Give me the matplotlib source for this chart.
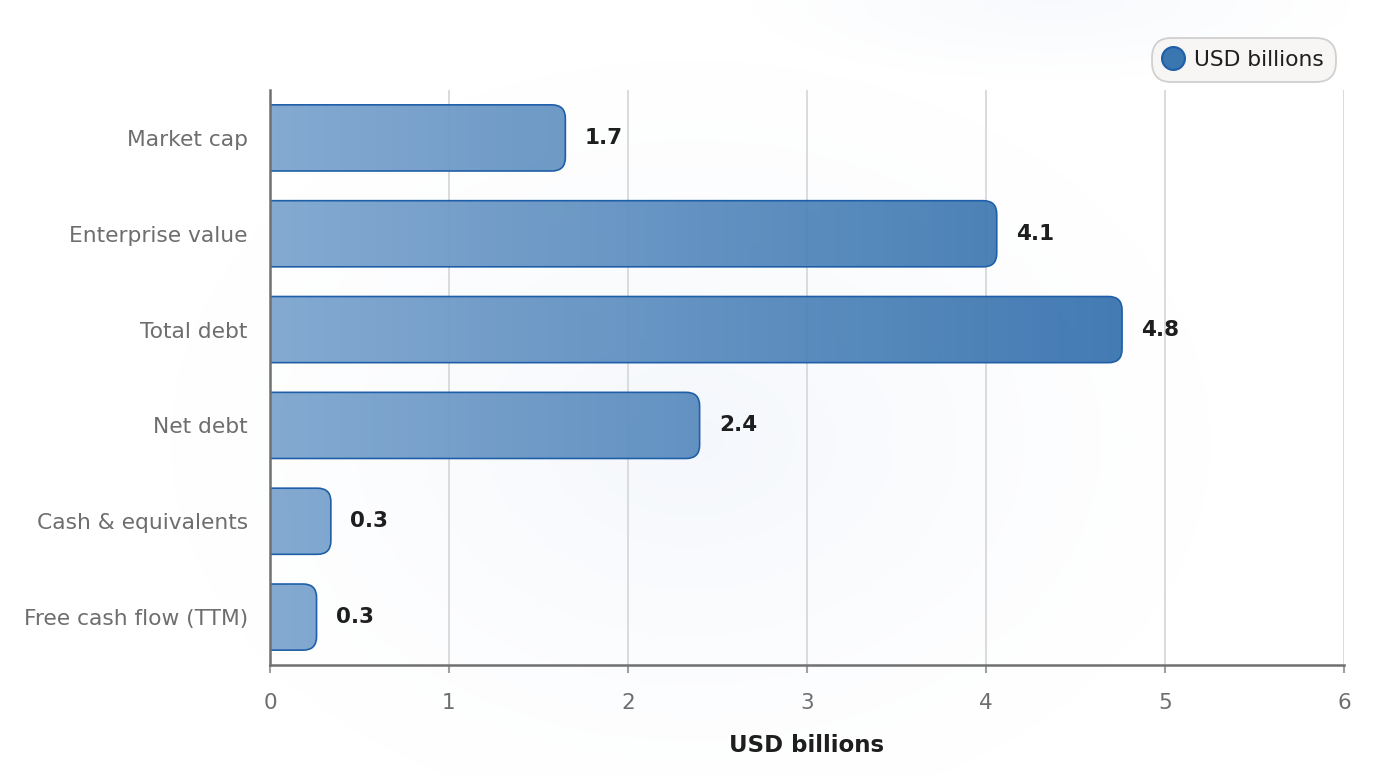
import numpy as np
import matplotlib
matplotlib.use("Agg")
import matplotlib.pyplot as plt
from matplotlib.patches import FancyBboxPatch
from matplotlib.colors import LinearSegmentedColormap
from matplotlib.lines import Line2D

# data
categories = ["Market cap", "Enterprise value", "Total debt", "Net debt",
              "Cash & equivalents", "Free cash flow (TTM)"]
values = [1.65, 4.06, 4.76, 2.40, 0.34, 0.26]
value_labels = ["1.7", "4.1", "4.8", "2.4", "0.3", "0.3"]
x_ticks = [0, 1, 2, 3, 4, 5, 6]

fig = plt.figure(figsize=(13.8, 7.76), dpi=100)

# faint radial glow in the background
bg = fig.add_axes([0, 0, 1, 1], zorder=-10)
yy, xx = np.mgrid[0:776, 0:1380]
d = np.sqrt(((xx - 690) / 520.0) ** 2 + ((yy - 440) / 380.0) ** 2)
glow = np.clip(1 - d, 0, 1) ** 1.3
d2 = np.sqrt(((xx - 1050) / 300.0) ** 2 + ((yy - 0) / 80.0) ** 2)
glow = np.maximum(glow, np.clip(1 - d2, 0, 1) * 0.7)
bgcol = np.ones((776, 1380, 3))
tint = np.array([0.958, 0.970, 0.988])
bgcol = bgcol * (1 - glow[..., None]) + tint * glow[..., None]
bg.imshow(bgcol, aspect="auto", extent=[0, 1, 0, 1])
bg.axis("off")

ax = fig.add_axes([270 / 1380, 1 - 665 / 776, (1344 - 270) / 1380, (665 - 90) / 776])
ax.patch.set_alpha(0)

ylim = (len(categories) - 0.5, -0.5)
ax.set_xlim(0, 6)
ax.set_ylim(*ylim)
ax.set_xticks(x_ticks)
ax.set_xticklabels([str(t) for t in x_ticks])
ax.set_yticks(range(len(categories)))
ax.set_yticklabels(categories)
ax.grid(axis="x", color="#d8d8d8", linewidth=1.3, zorder=0)
ax.set_axisbelow(True)

for s in ["top", "right"]:
    ax.spines[s].set_visible(False)
for s in ["left", "bottom"]:
    ax.spines[s].set_color("#707070")
    ax.spines[s].set_linewidth(1.8)
    ax.spines[s].set_zorder(5)

ax.tick_params(axis="y", length=0, pad=16, labelsize=15.7, labelcolor="#6e6e6e")
ax.tick_params(axis="x", length=6, width=1.5, color="#a0a0a0", pad=14,
               labelsize=15.5, labelcolor="#6e6e6e")
ax.set_xlabel("USD billions", fontsize=16.5, fontweight="bold", color="#1e1e1e", labelpad=15)

cmap = LinearSegmentedColormap.from_list("bars", ["#7ca4ce", "#3672ae"])
grad = np.linspace(0, 1, 256).reshape(1, -1)
bar_h = 0.69
r = 0.075
aspect = (1074 / 6) / (575 / 6)

for i, v in enumerate(values):
    y0 = i - bar_h / 2
    box = FancyBboxPatch((-0.2, y0), v + 0.2, bar_h,
                         boxstyle=f"round,pad=0,rounding_size={r}",
                         mutation_aspect=aspect, transform=ax.transData,
                         facecolor="none", edgecolor="none")
    ax.add_patch(box)
    im = ax.imshow(grad, cmap=cmap, aspect="auto", extent=[0, 4.8, i + bar_h / 2, y0],
                   alpha=0.94, zorder=2, interpolation="bicubic")
    im.set_clip_path(box)
    edge = FancyBboxPatch((-0.2, y0), v + 0.2, bar_h,
                          boxstyle=f"round,pad=0,rounding_size={r}",
                          mutation_aspect=aspect, facecolor="none",
                          edgecolor="#1f5fa8", linewidth=1.2, zorder=3)
    ax.add_patch(edge)
    ax.text(v + 0.107, i, value_labels[i], va="center", ha="left",
            fontsize=15.5, fontweight="bold", color="#1e1e1e", zorder=4)

ax.set_xlim(0, 6)
ax.set_ylim(*ylim)

handle = Line2D([], [], marker="o", linestyle="none", markersize=16.5,
                markerfacecolor="#3a76b0", markeredgecolor="#1f5fa8", markeredgewidth=1.5)
leg = fig.legend([handle], ["USD billions"], loc="upper right",
                 bbox_to_anchor=(1336 / 1380, 1 - 38 / 776), fontsize=15.7,
                 frameon=True, fancybox=True, handletextpad=0.55, borderpad=0.55,
                 handlelength=0.85, borderaxespad=0)
frame = leg.get_frame()
frame.set_boxstyle("round", pad=0, rounding_size=0.9)
frame.set_facecolor("#f7f6f4")
frame.set_edgecolor("#d0d0d0")
frame.set_linewidth(1.3)
frame.set_alpha(1)
for t in leg.get_texts():
    t.set_color("#1e1e1e")

fig.savefig("out.png", dpi=100)
